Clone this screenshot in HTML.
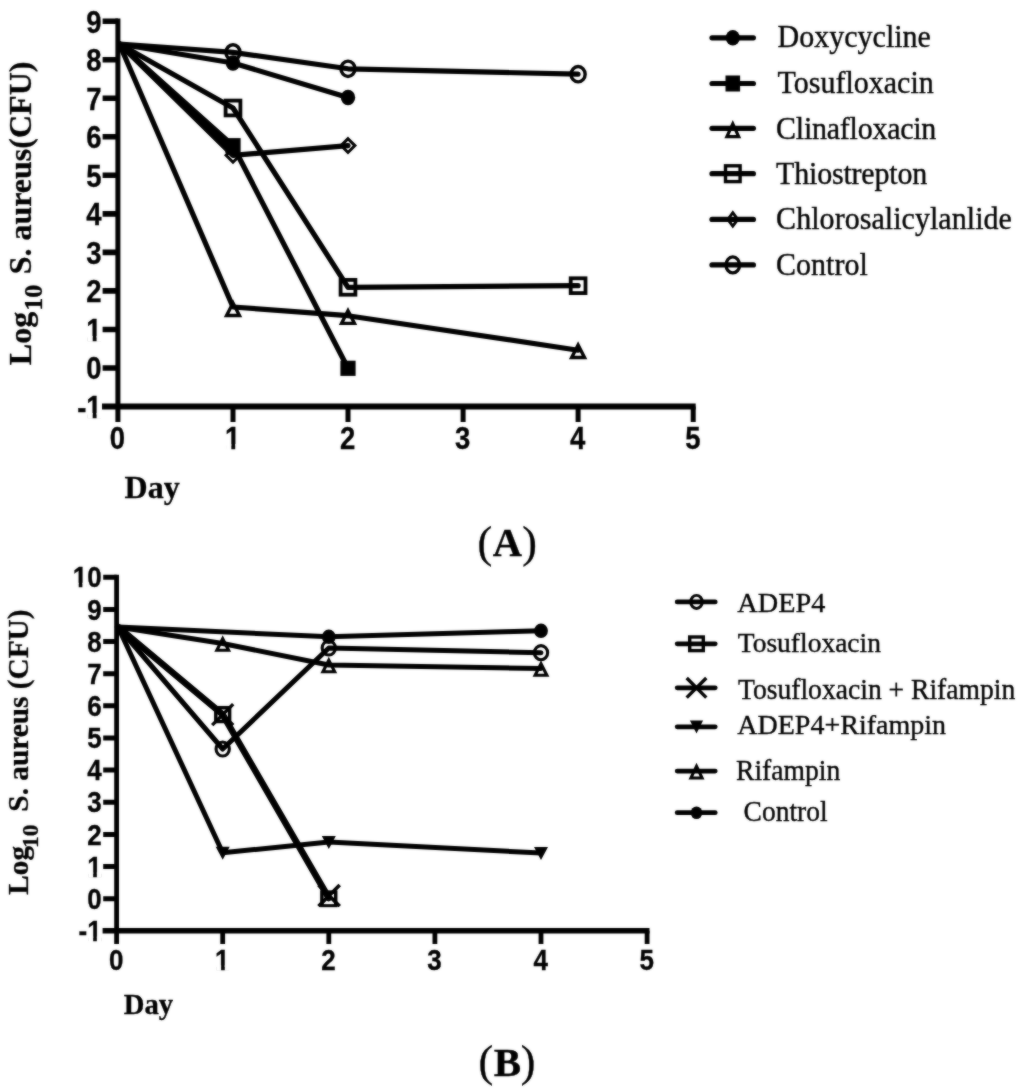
<!DOCTYPE html>
<html lang="en"><head><meta charset="utf-8"><title>Figure: S. aureus time-kill curves</title>
<style>html,body{margin:0;padding:0;background:#fff;overflow:hidden}svg{display:block}.tk{font-family:"Liberation Sans", sans-serif;font-weight:700;fill:#000;stroke:#000;stroke-width:0.3px}.sb{font-family:"Liberation Serif", serif;font-weight:700;fill:#000;stroke:#000;stroke-width:0.3px}.sr{font-family:"Liberation Serif", serif;font-weight:400;fill:#000;stroke:#000;stroke-width:0.35px}</style></head><body>
<svg width="1024" height="1092" viewBox="0 0 1024 1092">
<defs><filter id="soft" x="0" y="0" width="1024" height="1092" filterUnits="userSpaceOnUse" color-interpolation-filters="sRGB"><feGaussianBlur stdDeviation="0.8" result="b"/><feComposite in="SourceGraphic" in2="b" operator="arithmetic" k1="0" k2="0.5" k3="0.5" k4="0"/></filter></defs>
<rect width="1024" height="1092" fill="#fff"/>
<g filter="url(#soft)">
<rect x="-10" y="-10" width="1044" height="1112" fill="#fff"/>
<g id="chartA">
<path d="M117.9 18.4V422.0" stroke="#000" stroke-width="5.0" fill="none"/>
<path d="M102.0 406.5H695.7" stroke="#000" stroke-width="6.0" fill="none"/>
<path d="M102.6 368.0H117.9M102.6 329.5H117.9M102.6 290.9H117.9M102.6 252.4H117.9M102.6 213.9H117.9M102.6 175.3H117.9M102.6 136.8H117.9M102.6 98.3H117.9M102.6 59.8H117.9M102.6 21.2H117.9" stroke="#000" stroke-width="5.6" fill="none"/>
<path d="M233.0 406.5V422.0M348.0 406.5V422.0M463.1 406.5V422.0M578.1 406.5V422.0M693.2 406.5V422.0" stroke="#000" stroke-width="5.0" fill="none"/>
<text class="tk" transform="translate(101.6 417.8) scale(1.0 1.12)" font-size="27.5" text-anchor="end">-1</text>
<text class="tk" transform="translate(101.6 379.3) scale(1.0 1.12)" font-size="27.5" text-anchor="end">0</text>
<text class="tk" transform="translate(101.6 340.8) scale(1.0 1.12)" font-size="27.5" text-anchor="end">1</text>
<text class="tk" transform="translate(101.6 302.2) scale(1.0 1.12)" font-size="27.5" text-anchor="end">2</text>
<text class="tk" transform="translate(101.6 263.7) scale(1.0 1.12)" font-size="27.5" text-anchor="end">3</text>
<text class="tk" transform="translate(101.6 225.2) scale(1.0 1.12)" font-size="27.5" text-anchor="end">4</text>
<text class="tk" transform="translate(101.6 186.6) scale(1.0 1.12)" font-size="27.5" text-anchor="end">5</text>
<text class="tk" transform="translate(101.6 148.1) scale(1.0 1.12)" font-size="27.5" text-anchor="end">6</text>
<text class="tk" transform="translate(101.6 109.6) scale(1.0 1.12)" font-size="27.5" text-anchor="end">7</text>
<text class="tk" transform="translate(101.6 71.1) scale(1.0 1.12)" font-size="27.5" text-anchor="end">8</text>
<text class="tk" transform="translate(101.6 32.5) scale(1.0 1.12)" font-size="27.5" text-anchor="end">9</text>
<text class="tk" transform="translate(117.5 449.0) scale(1.0 1.12)" font-size="27.5" text-anchor="middle">0</text>
<text class="tk" transform="translate(232.6 449.0) scale(1.0 1.12)" font-size="27.5" text-anchor="middle">1</text>
<text class="tk" transform="translate(347.6 449.0) scale(1.0 1.12)" font-size="27.5" text-anchor="middle">2</text>
<text class="tk" transform="translate(462.7 449.0) scale(1.0 1.12)" font-size="27.5" text-anchor="middle">3</text>
<text class="tk" transform="translate(577.7 449.0) scale(1.0 1.12)" font-size="27.5" text-anchor="middle">4</text>
<text class="tk" transform="translate(692.8 449.0) scale(1.0 1.12)" font-size="27.5" text-anchor="middle">5</text>
<rect x="87.41" y="335.95" width="5.28" height="5.85" fill="#fff"/><rect x="96.57" y="335.95" width="4.81" height="5.85" fill="#fff"/>
<rect x="87.41" y="412.95" width="5.28" height="5.85" fill="#fff"/><rect x="96.57" y="412.95" width="4.81" height="5.85" fill="#fff"/>
<rect x="226.05" y="444.15" width="5.28" height="5.85" fill="#fff"/><rect x="235.21" y="444.15" width="4.81" height="5.85" fill="#fff"/>
<text class="sb" x="124.6" y="497.8" font-size="32">Day</text>
<text class="sb" transform="translate(30.7 365.2) rotate(-90)" font-size="32">Log<tspan font-size="26" dy="11" dx="1">10</tspan><tspan dy="-11" dx="2.5"> S. aureus(CFU)</tspan></text>
<ellipse cx="233.0" cy="52.4" rx="7.05" ry="7.65" fill="none" stroke="#000" stroke-width="3.4"/>
<ellipse cx="348.0" cy="68.8" rx="7.05" ry="7.65" fill="none" stroke="#000" stroke-width="3.4"/>
<ellipse cx="578.1" cy="74.2" rx="7.05" ry="7.65" fill="none" stroke="#000" stroke-width="3.4"/>
<rect x="225.60" y="100.60" width="14.8" height="14.8" fill="none" stroke="#000" stroke-width="3.8"/>
<rect x="340.60" y="279.90" width="14.8" height="14.8" fill="none" stroke="#000" stroke-width="3.8"/>
<rect x="570.70" y="278.30" width="14.8" height="14.8" fill="none" stroke="#000" stroke-width="3.8"/>
<path d="M233.0 302.90L239.43 315.55L226.57 315.55Z" fill="none" stroke="#000" stroke-width="3.4" stroke-linejoin="miter" stroke-miterlimit="10"/>
<path d="M348.0 310.70L354.43 323.35L341.57 323.35Z" fill="none" stroke="#000" stroke-width="3.4" stroke-linejoin="miter" stroke-miterlimit="10"/>
<path d="M578.1 344.90L584.53 357.55L571.67 357.55Z" fill="none" stroke="#000" stroke-width="3.4" stroke-linejoin="miter" stroke-miterlimit="10"/>
<path d="M233.0 148.4L239.9 155.3L233.0 162.20000000000002L226.1 155.3Z" fill="none" stroke="#000" stroke-width="3.0" stroke-linejoin="miter"/>
<path d="M348.0 138.7L354.9 145.6L348.0 152.5L341.1 145.6Z" fill="none" stroke="#000" stroke-width="3.0" stroke-linejoin="miter"/>
<polyline points="119.4,44.0 233.0,52.4 348.0,68.8 578.1,74.2" fill="none" stroke="#000" stroke-width="5.2" stroke-linejoin="round" stroke-linecap="round"/>
<polyline points="119.4,44.0 233.0,63.0 348.0,97.5" fill="none" stroke="#000" stroke-width="5.2" stroke-linejoin="round" stroke-linecap="round"/>
<polyline points="119.4,44.0 233.0,145.7 348.0,368.3" fill="none" stroke="#000" stroke-width="5.2" stroke-linejoin="round" stroke-linecap="round"/>
<polyline points="119.4,44.0 233.0,307.0 348.0,315.7 578.1,350.2" fill="none" stroke="#000" stroke-width="5.2" stroke-linejoin="round" stroke-linecap="round"/>
<polyline points="119.4,44.0 233.0,108.0 348.0,287.3 578.1,285.7" fill="none" stroke="#000" stroke-width="5.2" stroke-linejoin="round" stroke-linecap="round"/>
<polyline points="119.4,44.0 233.0,155.3 348.0,145.6" fill="none" stroke="#000" stroke-width="5.2" stroke-linejoin="round" stroke-linecap="round"/>
<path d="M119.4 44.0L233.0 145.7L233.0 155.3Z" fill="#000"/>
<ellipse cx="233.0" cy="63.0" rx="7.2" ry="7.7" fill="#000"/>
<ellipse cx="348.0" cy="97.5" rx="7.2" ry="7.7" fill="#000"/>
<rect x="225.40" y="138.10" width="15.2" height="15.2" fill="#000"/>
<rect x="340.40" y="360.70" width="15.2" height="15.2" fill="#000"/>
<ellipse cx="732.8" cy="37.8" rx="7.0" ry="7.7" fill="#000"/>
<path d="M712.0 37.8H753.4" stroke="#000" stroke-width="5.2" stroke-linecap="round" fill="none"/>
<text class="sr" transform="translate(777.6 46.9) scale(1.0 1.065)" font-size="30">Doxycycline</text>
<rect x="725.5" y="75.5" width="14.6" height="16" fill="#000"/>
<path d="M712.0 83.5H753.4" stroke="#000" stroke-width="5.2" stroke-linecap="round" fill="none"/>
<text class="sr" transform="translate(777.6 93.3) scale(1.0 1.065)" font-size="30">Tosufloxacin</text>
<path d="M732.8 123.82L738.70 136.60L726.90 136.60Z" fill="none" stroke="#000" stroke-width="3.2" stroke-linejoin="miter" stroke-miterlimit="10"/>
<path d="M712.0 128.3H753.4" stroke="#000" stroke-width="5.2" stroke-linecap="round" fill="none"/>
<text class="sr" transform="translate(776.1 139.4) scale(1.0 1.065)" font-size="30" letter-spacing="-0.25">Clinafloxacin</text>
<rect x="725.5" y="165.79999999999998" width="14.6" height="15.8" fill="none" stroke="#000" stroke-width="3.4"/>
<path d="M712.0 173.7H753.4" stroke="#000" stroke-width="5.2" stroke-linecap="round" fill="none"/>
<text class="sr" transform="translate(776.1 184.0) scale(1.0 1.065)" font-size="30" letter-spacing="-0.2">Thiostrepton</text>
<path d="M732.8 212.6L737.8 219.4L732.8 226.20000000000002L727.8 219.4Z" fill="none" stroke="#000" stroke-width="2.8" stroke-linejoin="miter"/>
<path d="M712.0 219.4H753.4" stroke="#000" stroke-width="5.2" stroke-linecap="round" fill="none"/>
<text class="sr" transform="translate(776.1 229.2) scale(1.0 1.065)" font-size="30" letter-spacing="0.05">Chlorosalicylanlide</text>
<ellipse cx="732.8" cy="264.9" rx="6.75" ry="8.05" fill="none" stroke="#000" stroke-width="3.3"/>
<path d="M712.0 264.9H753.4" stroke="#000" stroke-width="5.2" stroke-linecap="round" fill="none"/>
<text class="sr" transform="translate(776.1 274.8) scale(1.0 1.065)" font-size="30">Control</text>
</g>
<text class="sr" x="477.4" y="557" font-size="44">(</text>
<text class="sb" x="507.4" y="556.4" font-size="40.5" text-anchor="middle">A</text>
<text class="sr" x="522.3" y="557" font-size="44">)</text>
<g id="chartB">
<path d="M116.6 574.7V944.0" stroke="#000" stroke-width="4.8" fill="none"/>
<path d="M102.6 930.7H649.5" stroke="#000" stroke-width="5.6" fill="none"/>
<path d="M103.19999999999999 898.7H116.6M103.19999999999999 866.6H116.6M103.19999999999999 834.4H116.6M103.19999999999999 802.2H116.6M103.19999999999999 770.1H116.6M103.19999999999999 738.0H116.6M103.19999999999999 705.8H116.6M103.19999999999999 673.7H116.6M103.19999999999999 641.5H116.6M103.19999999999999 609.4H116.6M103.19999999999999 577.2H116.6" stroke="#000" stroke-width="5.0" fill="none"/>
<path d="M222.7 930.7V944.0M328.8 930.7V944.0M434.9 930.7V944.0M541.0 930.7V944.0M647.1 930.7V944.0" stroke="#000" stroke-width="4.8" fill="none"/>
<text class="tk" transform="translate(101.6 941.1) scale(1.0 1.1)" font-size="26" text-anchor="end">-1</text>
<text class="tk" transform="translate(101.6 908.9) scale(1.0 1.1)" font-size="26" text-anchor="end">0</text>
<text class="tk" transform="translate(101.6 876.8) scale(1.0 1.1)" font-size="26" text-anchor="end">1</text>
<text class="tk" transform="translate(101.6 844.6) scale(1.0 1.1)" font-size="26" text-anchor="end">2</text>
<text class="tk" transform="translate(101.6 812.4) scale(1.0 1.1)" font-size="26" text-anchor="end">3</text>
<text class="tk" transform="translate(101.6 780.3) scale(1.0 1.1)" font-size="26" text-anchor="end">4</text>
<text class="tk" transform="translate(101.6 748.2) scale(1.0 1.1)" font-size="26" text-anchor="end">5</text>
<text class="tk" transform="translate(101.6 716.0) scale(1.0 1.1)" font-size="26" text-anchor="end">6</text>
<text class="tk" transform="translate(101.6 683.9) scale(1.0 1.1)" font-size="26" text-anchor="end">7</text>
<text class="tk" transform="translate(101.6 651.7) scale(1.0 1.1)" font-size="26" text-anchor="end">8</text>
<text class="tk" transform="translate(101.6 619.6) scale(1.0 1.1)" font-size="26" text-anchor="end">9</text>
<text class="tk" transform="translate(101.6 587.4) scale(1.0 1.1)" font-size="26" text-anchor="end">10</text>
<text class="tk" transform="translate(116.2 969.8) scale(1.0 1.1)" font-size="26" text-anchor="middle">0</text>
<text class="tk" transform="translate(222.3 969.8) scale(1.0 1.1)" font-size="26" text-anchor="middle">1</text>
<text class="tk" transform="translate(328.4 969.8) scale(1.0 1.1)" font-size="26" text-anchor="middle">2</text>
<text class="tk" transform="translate(434.5 969.8) scale(1.0 1.1)" font-size="26" text-anchor="middle">3</text>
<text class="tk" transform="translate(540.6 969.8) scale(1.0 1.1)" font-size="26" text-anchor="middle">4</text>
<text class="tk" transform="translate(646.7 969.8) scale(1.0 1.1)" font-size="26" text-anchor="middle">5</text>
<rect x="88.18" y="872.22" width="4.99" height="5.58" fill="#fff"/><rect x="96.84" y="872.22" width="4.55" height="5.58" fill="#fff"/>
<rect x="88.18" y="936.52" width="4.99" height="5.58" fill="#fff"/><rect x="96.84" y="936.52" width="4.55" height="5.58" fill="#fff"/>
<rect x="73.73" y="582.82" width="4.99" height="5.58" fill="#fff"/><rect x="82.39" y="582.82" width="4.55" height="5.58" fill="#fff"/>
<rect x="216.11" y="965.22" width="4.99" height="5.58" fill="#fff"/><rect x="224.77" y="965.22" width="4.55" height="5.58" fill="#fff"/>
<text class="sb" transform="translate(123.8 1014.3) scale(1.0 1.03)" font-size="28.7">Day</text>
<text class="sb" transform="translate(27.8 894.8) rotate(-90)" font-size="29.3">Log<tspan font-size="23.5" dy="10" dx="-2">10</tspan><tspan dy="-10" dx="5.5"> S. aureus (CFU)</tspan></text>
<ellipse cx="222.7" cy="749.0" rx="6.65" ry="7.05" fill="none" stroke="#000" stroke-width="3.1"/>
<ellipse cx="328.8" cy="648.0" rx="6.65" ry="7.05" fill="none" stroke="#000" stroke-width="3.1"/>
<ellipse cx="541.0" cy="652.7" rx="6.65" ry="7.05" fill="none" stroke="#000" stroke-width="3.1"/>
<clipPath id="clipB"><rect x="0" y="560" width="1024" height="347.3"/></clipPath>
<rect x="215.80" y="707.70" width="13.8" height="13.8" fill="none" stroke="#000" stroke-width="3.5"/>
<path d="M212.2 704.1L233.2 725.1M212.2 725.1L233.2 704.1" fill="none" stroke="#000" stroke-width="3.4"/>
<g clip-path="url(#clipB)">
<rect x="321.90" y="892.10" width="13.8" height="13.8" fill="none" stroke="#000" stroke-width="3.5"/>
<path d="M318.5 885.0L339.70000000000005 906.2M318.5 906.2L339.70000000000005 885.0" fill="none" stroke="#000" stroke-width="3.6"/>
</g>
<path d="M222.7 638.63L228.58 650.25L216.82 650.25Z" fill="none" stroke="#000" stroke-width="3.1" stroke-linejoin="miter" stroke-miterlimit="10"/>
<path d="M328.8 660.13L334.68 671.75L322.92 671.75Z" fill="none" stroke="#000" stroke-width="3.1" stroke-linejoin="miter" stroke-miterlimit="10"/>
<path d="M541.0 663.63L546.88 675.25L535.12 675.25Z" fill="none" stroke="#000" stroke-width="3.1" stroke-linejoin="miter" stroke-miterlimit="10"/>
<polyline points="118.1,627.0 222.7,749.0 328.8,648.0 541.0,652.7" fill="none" stroke="#000" stroke-width="5.0" stroke-linejoin="round" stroke-linecap="round"/>
<polyline points="118.1,627.0 222.7,714.6 328.8,898.0" fill="none" stroke="#000" stroke-width="5.0" stroke-linejoin="round" stroke-linecap="round"/>
<polyline points="118.1,627.0 222.7,852.8 328.8,842.0 541.0,853.0" fill="none" stroke="#000" stroke-width="5.0" stroke-linejoin="round" stroke-linecap="round"/>
<polyline points="118.1,627.0 222.7,643.5 328.8,665.0 541.0,668.5" fill="none" stroke="#000" stroke-width="5.0" stroke-linejoin="round" stroke-linecap="round"/>
<polyline points="118.1,627.0 328.8,636.8 541.0,630.8" fill="none" stroke="#000" stroke-width="5.0" stroke-linejoin="round" stroke-linecap="round"/>
<polyline points="118.1,627.0 222.7,714.6 328.8,898.0" fill="none" stroke="#000" stroke-width="6.5" stroke-linejoin="round" stroke-linecap="round"/>
<path d="M215.7 846.8L229.7 846.8L222.7 859.8Z" fill="#000"/>
<path d="M321.8 836.0L335.8 836.0L328.8 849.0Z" fill="#000"/>
<path d="M534.0 847.0L548.0 847.0L541.0 860.0Z" fill="#000"/>
<ellipse cx="328.8" cy="636.8" rx="6.9" ry="7.2" fill="#000"/>
<ellipse cx="541.0" cy="630.8" rx="6.9" ry="7.2" fill="#000"/>
<ellipse cx="696.5" cy="601.9" rx="5.75" ry="6.55" fill="none" stroke="#000" stroke-width="2.9"/>
<path d="M677.1999999999999 601.9H715.2" stroke="#000" stroke-width="4.8" stroke-linecap="round" fill="none"/>
<text class="sr" transform="translate(737.3 611.8) scale(1.0 0.97)" font-size="28.3">ADEP4</text>
<rect x="689.70" y="637.00" width="13.6" height="13.6" fill="none" stroke="#000" stroke-width="3.4"/>
<path d="M677.1999999999999 643.8H715.2" stroke="#000" stroke-width="4.8" stroke-linecap="round" fill="none"/>
<text class="sr" transform="translate(737.8 652.0) scale(1.0 1.03)" font-size="27.5">Tosufloxacin</text>
<path d="M686.7 678.0L706.3 697.5999999999999M686.7 697.5999999999999L706.3 678.0" fill="none" stroke="#000" stroke-width="3.4"/>
<path d="M677.1999999999999 687.8H715.2" stroke="#000" stroke-width="4.8" stroke-linecap="round" fill="none"/>
<text class="sr" transform="translate(738.0 699.0) scale(1.0 1.07)" font-size="27.6">Tosufloxacin + Rifampin</text>
<path d="M689.9 720.4L703.1 720.4L696.5 733.4Z" fill="#000"/>
<path d="M677.1999999999999 726.8H715.2" stroke="#000" stroke-width="4.8" stroke-linecap="round" fill="none"/>
<text class="sr" x="737.3" y="734.4" font-size="28.0">ADEP4+Rifampin</text>
<path d="M696.5 766.19L702.12 778.00L690.88 778.00Z" fill="none" stroke="#000" stroke-width="3.0" stroke-linejoin="miter" stroke-miterlimit="10"/>
<path d="M677.1999999999999 771.1H715.2" stroke="#000" stroke-width="4.8" stroke-linecap="round" fill="none"/>
<text class="sr" transform="translate(736.0 780.2) scale(1.0 1.04)" font-size="27.6">Rifampin</text>
<ellipse cx="696.5" cy="812.7" rx="5.8" ry="6.3" fill="#000"/>
<path d="M677.1999999999999 812.7H715.2" stroke="#000" stroke-width="4.8" stroke-linecap="round" fill="none"/>
<text class="sr" transform="translate(743.6 821.2) scale(1.0 1.07)" font-size="27.5">Control</text>
</g>
<text class="sr" x="478.5" y="1076.3" font-size="44">(</text>
<text class="sb" x="507.4" y="1075.7" font-size="41" text-anchor="middle">B</text>
<text class="sr" x="520.8" y="1076.3" font-size="44">)</text>
</g>
</svg>
</body></html>
